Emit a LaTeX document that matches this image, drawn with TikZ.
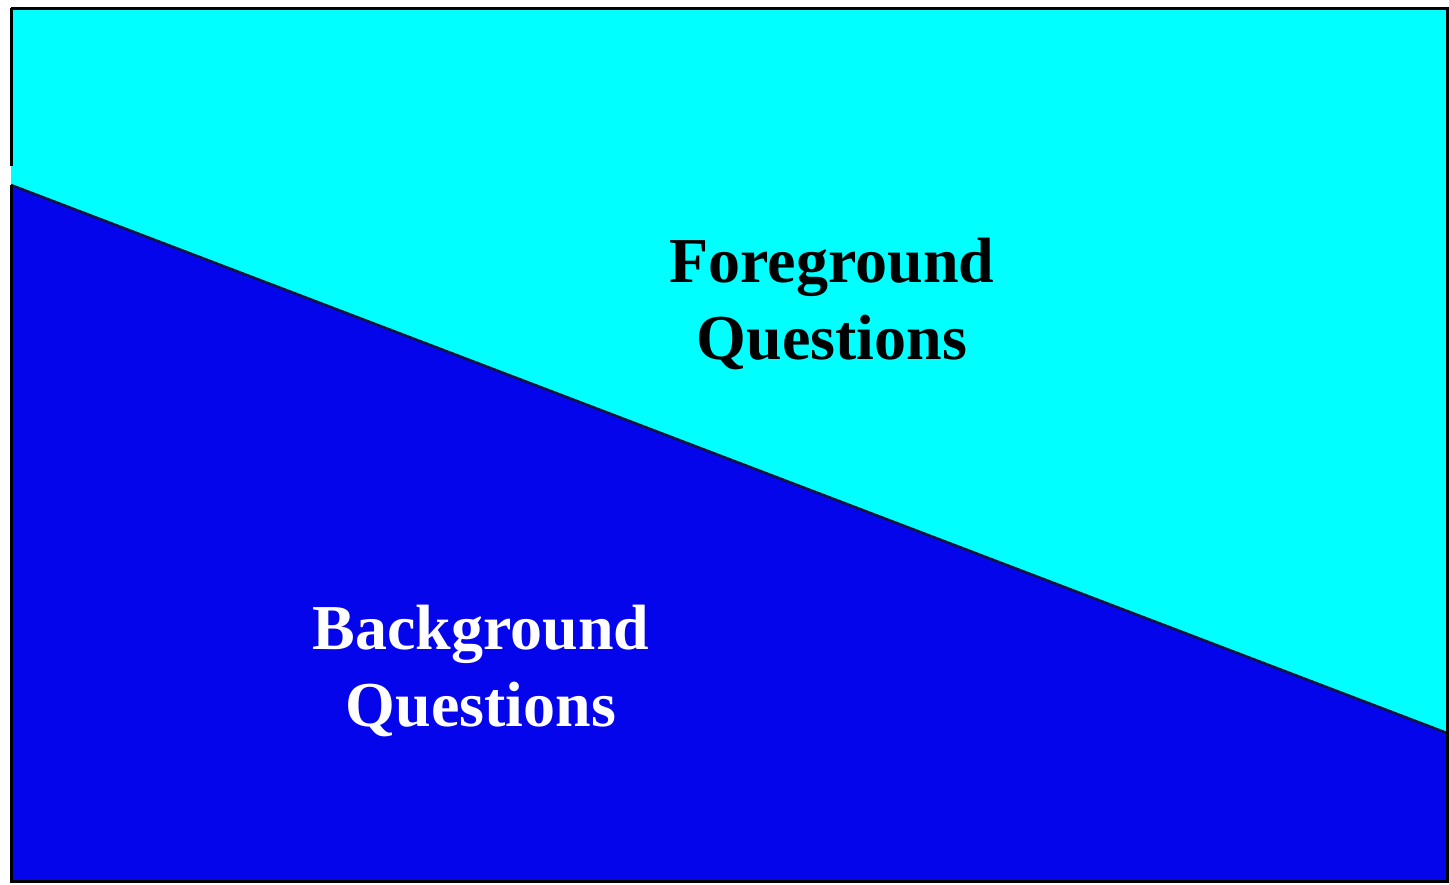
\documentclass[tikz,border=0pt]{standalone}
\usepackage{fontspec}
\setmainfont{Liberation Serif}
\definecolor{fgcyan}{RGB}{0,255,255}
\definecolor{bgblue}{RGB}{5,5,235}
\definecolor{edge}{RGB}{10,20,60}
\tikzset{
  lbl/.style={font=\fontsize{64}{77}\selectfont\bfseries, align=center, inner sep=0pt},
}
\begin{document}
\begin{tikzpicture}[x=1pt,y=-1pt]
\useasboundingbox (0,0) rectangle (1449,884);
\fill[white] (0,0) rectangle (1449,884);
\coordinate (tl) at (11,8);
\coordinate (tr) at (1447,8);
\coordinate (br) at (1447,881);
\coordinate (bl) at (11,881);
\coordinate (ls) at (11,185);
\coordinate (rs) at (1447,733);
\fill[fgcyan] (tl) -- (tr) -- (rs) -- (ls) -- cycle;
\fill[bgblue] (ls) -- (rs) -- (br) -- (bl) -- cycle;
\draw[edge, line width=2.5] (ls) -- (rs);
\draw[black, line width=3] (tl) -- (tr) -- (br) -- (bl) -- (ls);
\draw[black, line width=3] (11,166) -- (tl);
\node[lbl, text=black] (fg) at (832,304) {Foreground\\Questions};
\node[lbl, text=white] (bg) at (481,671) {Background\\Questions};
\end{tikzpicture}
\end{document}
